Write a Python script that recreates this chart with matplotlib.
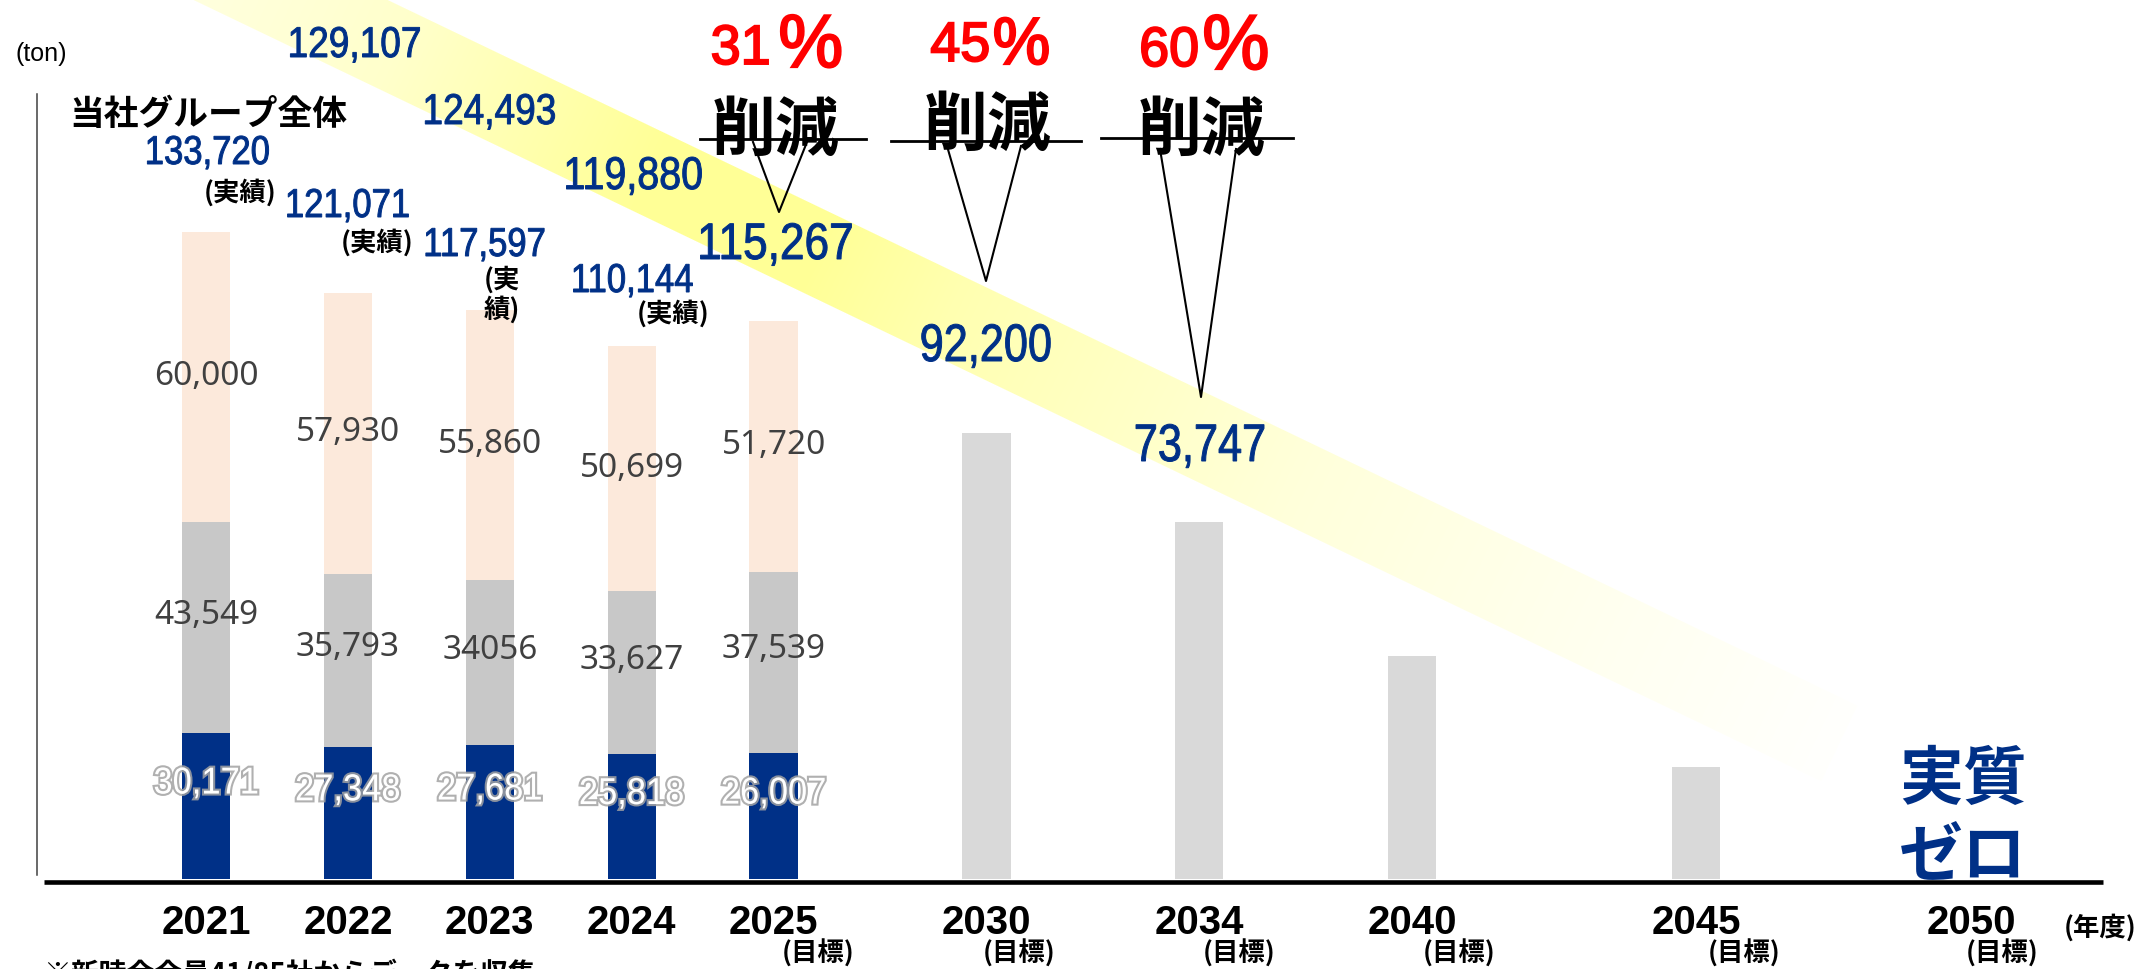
import numpy as np
import matplotlib
matplotlib.use("Agg")
import matplotlib.pyplot as plt
import matplotlib.patheffects as pe
from matplotlib.textpath import TextPath
from matplotlib.patches import PathPatch
from matplotlib.font_manager import FontProperties
from matplotlib.transforms import Affine2D

# --- data -------------------------------------------------------------
years = ['2021', '2022', '2023', '2024', '2025', '2030', '2034', '2040', '2045', '2050']
navy_part = [30171, 27348, 27681, 25818, 26007]
gray_part = [43549, 35793, 34056, 33627, 37539]
peach_part = [60000, 57930, 55860, 50699, 51720]
gray_labels = ['43,549', '35,793', '34056', '33,627', '37,539']
totals = [133720, 121071, 117597, 110144]
target_vals = [92200, 73747, 46100, 23200]   # 2030, 2034, 2040, 2045
path_vals = [129107, 124493, 119880, 115267]
cut_pct = ['31', '45', '60']

# --- layout -----------------------------------------------------------
W, H = 2143, 970
x_pos = [0, 1, 2, 3, 4, 5.5, 7, 8.5, 10.5, 12.44]
bar_w = 0.34

NAVY = '#003087'
GRAY = '#C8C8C8'
PEACH = '#FCE9DB'
TARGET = '#D9D9D9'
LABEL = '#404040'
JP = ['Noto Sans CJK JP', 'DejaVu Sans']
SANS = FontProperties(family='Liberation Sans')


def fx(x):
    return x / W


def fy(y):
    return 1 - y / H


fig = plt.figure(figsize=(W / 100, H / 100), dpi=100)
fig.patch.set_facecolor('white')
ax = fig.add_axes([0, 0, 1, 1])
ax.patch.set_visible(False)
ax.set_xlim(-1.4517, 13.650)
ax.set_ylim(-18603, 181893)
ax.axis('off')


def condensed(x, y, s, size, color, squeeze=0.86, ha='center', weight=0.7, effects=None):
    """Arial-like text squeezed horizontally; x, y = anchor / baseline in pixels from top-left."""
    path = TextPath((0, 0), s, size=size * 100 / 72, prop=SANS)
    ext = path.get_extents()
    if ha == 'center':
        left = x - (ext.x0 + ext.width / 2) * squeeze
    elif ha == 'right':
        left = x - ext.x1 * squeeze
    else:
        left = x - ext.x0 * squeeze
    tr = Affine2D().scale(squeeze, 1).translate(left, H - y)
    patch = PathPatch(path, transform=tr, facecolor=color, edgecolor=color,
                      lw=weight, zorder=5, path_effects=effects)
    fig.add_artist(patch)


def to_px(xv, v):
    dx, dy = ax.transData.transform((xv, v))
    return dx, H - dy


# yellow trend band, fading out towards 2050
x0, y0 = 150.0, -66.5
ux, uy = 1 / np.hypot(1, 0.48), 0.48 / np.hypot(1, 0.48)
length = (1840 - 150) / ux
half = 42
yy, xx = np.mgrid[0:H, 0:W] + 0.5
s = (xx - x0) * ux + (yy - y0) * uy
p = -(xx - x0) * uy + (yy - y0) * ux
edge = np.clip(half + 0.5 - np.abs(p), 0, 1) * np.clip(s, 0, 1) * np.clip(length - s, 0, 1)
fade = np.interp(x0 + s * ux, [150, 400, 650, 820, 950, 1300, 1600, 1840],
                 [0.25, 0.5, 1.0, 1.0, 0.75, 0.35, 0.15, 0.02])
band = np.zeros((H, W, 4))
band[..., 0] = 1
band[..., 1] = 1
band[..., 2] = 150 / 255
band[..., 3] = edge * fade
fig.figimage(band, 0, 0, origin='upper', zorder=-1)

# stacked actual bars
xa = x_pos[:5]
b2 = np.array(navy_part) + np.array(gray_part)
ax.bar(xa, navy_part, width=bar_w, color=NAVY, zorder=2)
ax.bar(xa, gray_part, width=bar_w, bottom=navy_part, color=GRAY, zorder=2)
ax.bar(xa, peach_part, width=bar_w, bottom=b2, color=PEACH, zorder=2)
# target bars
ax.bar(x_pos[5:9], target_vals, width=bar_w, color=TARGET, zorder=2)

# segment labels
glow = [pe.withStroke(linewidth=3, foreground='#a3a3a3', alpha=0.85)]
for i, x in enumerate(xa):
    ax.annotate(f'{peach_part[i]:,}', (x, b2[i] + peach_part[i] / 2), xytext=(0, -5),
                textcoords='offset points', ha='center', va='baseline',
                fontsize=24, color=LABEL, family='Noto Sans', zorder=4)
    ax.annotate(gray_labels[i], (x, navy_part[i] + gray_part[i] / 2), xytext=(0, 3.6),
                textcoords='offset points', ha='center', va='baseline',
                fontsize=24, color=LABEL, family='Noto Sans', zorder=4)
    cx, cy = to_px(x, navy_part[i] / 2)
    condensed(cx, cy - 12.5, f'{navy_part[i]:,}', 27, 'white', squeeze=0.92,
              weight=0, effects=glow)

# axis lines
ax.plot([fx(37), fx(37)], [fy(95), fy(876)], transform=fig.transFigure,
        color=LABEL, lw=1.1, zorder=3)
ax.plot([fx(44), fx(2103)], [fy(883), fy(883)], transform=fig.transFigure,
        color='black', lw=3.3, zorder=3, solid_capstyle='butt')

# year labels
for i, yr in enumerate(years):
    cx, _ = to_px(x_pos[i], 0)
    fig.text(fx(cx), fy(934), yr, ha='center', va='baseline',
             fontsize=29, fontweight='bold', family='Liberation Sans')
goal_dx = [45, 33, 40, 47, 48, 31]
for k, i in enumerate(range(4, 10)):
    cx, _ = to_px(x_pos[i], 0)
    fig.text(fx(cx + goal_dx[k]), fy(962), '(目標)', ha='center',
             va='baseline', fontsize=19, fontweight='bold', family=JP)
fig.text(fx(2100), fy(936), '(年度)', ha='center', va='baseline',
         fontsize=19, fontweight='bold', family=JP)

# unit and title
fig.text(fx(41), fy(61), '(ton)', ha='center', va='baseline', fontsize=18,
         family='Liberation Sans')
fig.text(fx(69), fy(125), '当社グループ全体', ha='left', va='baseline',
         fontsize=25, fontweight='bold', family=JP)

# totals for actual years
total_xy = [(208, 165), (348, 218), (485, 257), (633, 293)]
for v, (tx, ty) in zip(totals, total_xy):
    condensed(tx, ty, f'{v:,}', 29, NAVY)
for tx, ty in [(240, 201), (377, 251), (673, 322)]:
    fig.text(fx(tx), fy(ty), '(実績)', ha='center', va='baseline',
             fontsize=19, fontweight='bold', family=JP)
fig.text(fx(502), fy(288), '(実', ha='center', va='baseline', fontsize=19,
         fontweight='bold', family=JP)
fig.text(fx(502), fy(318), '績)', ha='center', va='baseline', fontsize=19,
         fontweight='bold', family=JP)

# values along the trend band
path_xy = [(355, 58, 31), (490, 125, 31), (634, 190, 33), (776, 260, 37)]
for v, (tx, ty, fs) in zip(path_vals, path_xy):
    condensed(tx, ty, f'{v:,}', fs, NAVY)
condensed(986, 362, f'{target_vals[0]:,}', 38, NAVY, squeeze=0.82)
condensed(1200, 462, f'{target_vals[1]:,}', 38, NAVY, squeeze=0.82)

# reduction callouts
pct_layout = [(768, 781, 65, 68, 54), (988, 995, 62, 65, 48), (1197, 1205, 67, 70, 56)]
for pct, (dr, pl, by, pb, fs_pc) in zip(cut_pct, pct_layout):
    condensed(dr, by, pct, 40, '#FF0000', squeeze=0.97, ha='right', weight=1.4)
    condensed(pl, pb, '%', fs_pc, '#FF0000', squeeze=0.97, ha='left', weight=1.6)

cut_xy = [(776, 150), (988, 145), (1202, 150)]
for cx, cy in cut_xy:
    fig.text(fx(cx), fy(cy), '削減', ha='center', va='baseline', fontsize=46,
             fontweight='bold', family=JP, zorder=4)

underlines = [(700, 866, 140), (891, 1081, 142), (1101, 1293, 139)]
for a, b, y in underlines:
    ax.plot([fx(a), fx(b)], [fy(y), fy(y)], transform=fig.transFigure,
            color='black', lw=2, zorder=3)

pointers = [((753, 143), (807, 143), (779, 213)),
            ((947, 147), (1021, 147), (986, 282)),
            ((1160, 150), (1236, 150), (1201, 398))]
for (lx, ly), (rx, ry), (tx, ty) in pointers:
    ax.plot([fx(lx), fx(tx), fx(rx)], [fy(ly), fy(ty), fy(ry)], transform=fig.transFigure,
            color='black', lw=1.5, zorder=3)

# net zero in 2050
fig.text(fx(1963), fy(799), '実質', ha='center', va='baseline', fontsize=46,
         fontweight='bold', color=NAVY, family=JP)
fig.text(fx(1963), fy(876), 'ゼロ', ha='center', va='baseline', fontsize=46,
         fontweight='bold', color=NAVY, family=JP)

# footnote
fig.text(fx(43), fy(983), '※新時会会員41/85社からデータを収集', ha='left', va='baseline',
         fontsize=20, fontweight='bold', family=JP)

fig.savefig('out.png', dpi=100, facecolor='white')
